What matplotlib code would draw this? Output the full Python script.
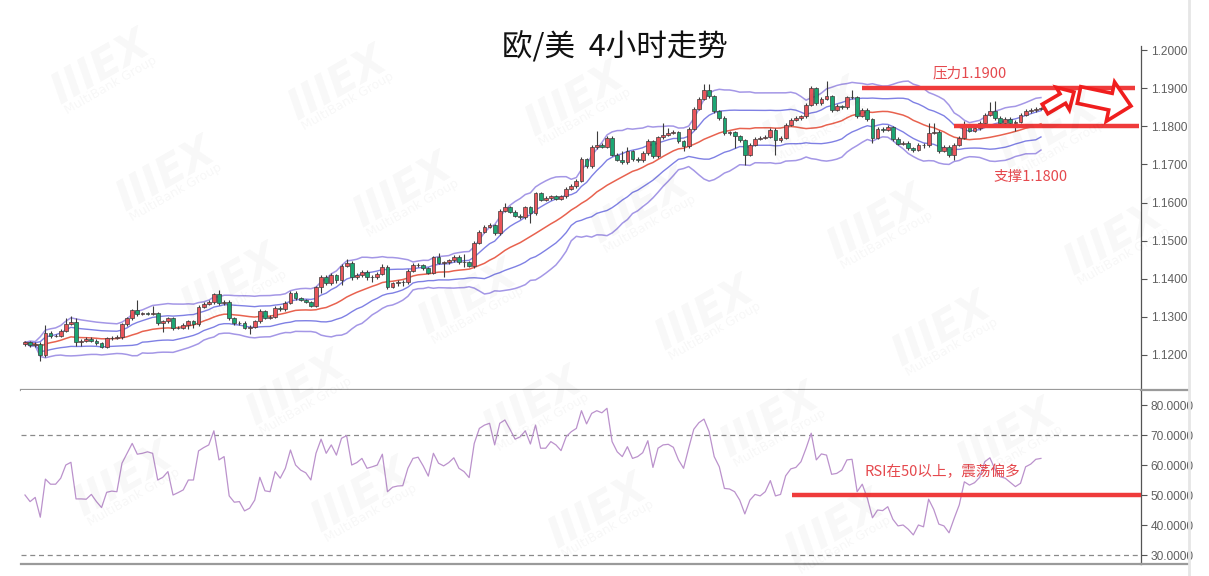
import matplotlib
matplotlib.use("Agg")
import matplotlib.pyplot as plt
import numpy as np
import pandas as pd
from matplotlib.patches import FancyArrow
from matplotlib.lines import Line2D
from matplotlib.transforms import IdentityTransform

plt.rcParams['font.family'] = ['Noto Sans CJK SC', 'DejaVu Sans']

# EUR/USD 4h candles (open of each bar = previous close)
first_open = 1.1228
closes = [
    1.1233, 1.1226, 1.1229, 1.1200, 1.1257, 1.1249, 1.1251, 1.1264, 1.1281, 1.1286,
    1.1235, 1.1237, 1.1242, 1.1237, 1.1231, 1.1222, 1.1244, 1.1245, 1.1246, 1.1281,
    1.1296, 1.1318, 1.1307, 1.1309, 1.1308, 1.1310, 1.1283, 1.1289, 1.1296, 1.1270,
    1.1272, 1.1279, 1.1289, 1.1281, 1.1327, 1.1334, 1.1338, 1.1359, 1.1336, 1.1340,
    1.1296, 1.1283, 1.1285, 1.1272, 1.1274, 1.1288, 1.1316, 1.1298, 1.1301, 1.1324,
    1.1320, 1.1337, 1.1364, 1.1349, 1.1345, 1.1340, 1.1329, 1.1378, 1.1405, 1.1388,
    1.1410, 1.1397, 1.1434, 1.1442, 1.1404, 1.1410, 1.1419, 1.1404, 1.1405, 1.1413,
    1.1432, 1.1379, 1.1388, 1.1392, 1.1391, 1.1421, 1.1436, 1.1437, 1.1428, 1.1416,
    1.1456, 1.1442, 1.1443, 1.1449, 1.1458, 1.1444, 1.1443, 1.1434, 1.1495, 1.1524,
    1.1537, 1.1541, 1.1519, 1.1578, 1.1588, 1.1576, 1.1565, 1.1562, 1.1588, 1.1572,
    1.1624, 1.1607, 1.1612, 1.1616, 1.1610, 1.1617, 1.1636, 1.1643, 1.1657, 1.1714,
    1.1695, 1.1745, 1.1752, 1.1747, 1.1770, 1.1726, 1.1713, 1.1706, 1.1735, 1.1715,
    1.1711, 1.1730, 1.1761, 1.1722, 1.1771, 1.1778, 1.1783, 1.1785, 1.1761, 1.1748,
    1.1794, 1.1846, 1.1873, 1.1895, 1.1879, 1.1840, 1.1822, 1.1783, 1.1784, 1.1774,
    1.1764, 1.1726, 1.1752, 1.1767, 1.1770, 1.1773, 1.1791, 1.1763, 1.1770, 1.1804,
    1.1818, 1.1822, 1.1826, 1.1857, 1.1901, 1.1861, 1.1872, 1.1879, 1.1844, 1.1853,
    1.1850, 1.1876, 1.1877, 1.1828, 1.1844, 1.1819, 1.1770, 1.1794, 1.1791, 1.1798,
    1.1767, 1.1755, 1.1757, 1.1743, 1.1739, 1.1752, 1.1751, 1.1783, 1.1786, 1.1736,
    1.1746, 1.1724, 1.1752, 1.1770, 1.1800, 1.1789, 1.1795, 1.1809, 1.1831, 1.1840,
    1.1822, 1.1809, 1.1820, 1.1809, 1.1812, 1.1831, 1.1840, 1.1842, 1.1846, 1.1848,
]
highs = [
    1.1238, 1.1237, 1.1233, 1.1233, 1.1279, 1.1262, 1.1256, 1.1268, 1.1298, 1.1302,
    1.1296, 1.1241, 1.1246, 1.1247, 1.1241, 1.1235, 1.1248, 1.1249, 1.1252, 1.1285,
    1.1300, 1.1322, 1.1344, 1.1313, 1.1312, 1.1329, 1.1313, 1.1293, 1.1300, 1.1299,
    1.1276, 1.1283, 1.1293, 1.1293, 1.1331, 1.1340, 1.1345, 1.1364, 1.1371, 1.1344,
    1.1344, 1.1299, 1.1289, 1.1288, 1.1278, 1.1292, 1.1320, 1.1319, 1.1305, 1.1328,
    1.1328, 1.1341, 1.1368, 1.1367, 1.1352, 1.1348, 1.1343, 1.1382, 1.1410, 1.1409,
    1.1414, 1.1413, 1.1438, 1.1451, 1.1446, 1.1414, 1.1423, 1.1422, 1.1409, 1.1417,
    1.1439, 1.1436, 1.1392, 1.1396, 1.1396, 1.1425, 1.1441, 1.1442, 1.1440, 1.1431,
    1.1461, 1.1468, 1.1447, 1.1453, 1.1462, 1.1462, 1.1465, 1.1447, 1.1499, 1.1529,
    1.1542, 1.1546, 1.1545, 1.1582, 1.1600, 1.1592, 1.1580, 1.1569, 1.1592, 1.1592,
    1.1629, 1.1628, 1.1616, 1.1620, 1.1620, 1.1621, 1.1640, 1.1648, 1.1662, 1.1719,
    1.1718, 1.1750, 1.1787, 1.1757, 1.1775, 1.1774, 1.1730, 1.1735, 1.1746, 1.1739,
    1.1720, 1.1735, 1.1766, 1.1765, 1.1776, 1.1809, 1.1795, 1.1790, 1.1789, 1.1765,
    1.1799, 1.1851, 1.1878, 1.1911, 1.1911, 1.1883, 1.1844, 1.1826, 1.1789, 1.1788,
    1.1778, 1.1768, 1.1756, 1.1771, 1.1774, 1.1777, 1.1796, 1.1795, 1.1774, 1.1808,
    1.1823, 1.1827, 1.1831, 1.1862, 1.1906, 1.1904, 1.1877, 1.1918, 1.1883, 1.1858,
    1.1857, 1.1881, 1.1896, 1.1881, 1.1849, 1.1848, 1.1823, 1.1798, 1.1798, 1.1803,
    1.1802, 1.1771, 1.1762, 1.1761, 1.1747, 1.1756, 1.1756, 1.1809, 1.1809, 1.1790,
    1.1750, 1.1750, 1.1756, 1.1775, 1.1815, 1.1804, 1.1800, 1.1814, 1.1836, 1.1864,
    1.1866, 1.1826, 1.1824, 1.1824, 1.1816, 1.1835, 1.1845, 1.1847, 1.1851, 1.1852,
]
lows = [
    1.1224, 1.1222, 1.1220, 1.1184, 1.1196, 1.1245, 1.1246, 1.1248, 1.1261, 1.1278,
    1.1224, 1.1223, 1.1233, 1.1233, 1.1227, 1.1218, 1.1219, 1.1240, 1.1241, 1.1243,
    1.1277, 1.1292, 1.1303, 1.1304, 1.1304, 1.1305, 1.1279, 1.1261, 1.1285, 1.1266,
    1.1267, 1.1268, 1.1268, 1.1272, 1.1277, 1.1323, 1.1330, 1.1334, 1.1332, 1.1332,
    1.1292, 1.1279, 1.1280, 1.1268, 1.1254, 1.1270, 1.1284, 1.1294, 1.1294, 1.1297,
    1.1316, 1.1316, 1.1333, 1.1345, 1.1341, 1.1336, 1.1325, 1.1325, 1.1362, 1.1383,
    1.1384, 1.1390, 1.1385, 1.1430, 1.1398, 1.1400, 1.1406, 1.1398, 1.1392, 1.1400,
    1.1409, 1.1373, 1.1375, 1.1381, 1.1381, 1.1387, 1.1417, 1.1432, 1.1424, 1.1412,
    1.1412, 1.1438, 1.1405, 1.1439, 1.1445, 1.1440, 1.1430, 1.1430, 1.1428, 1.1491,
    1.1520, 1.1533, 1.1515, 1.1514, 1.1574, 1.1572, 1.1561, 1.1558, 1.1558, 1.1546,
    1.1568, 1.1603, 1.1603, 1.1608, 1.1606, 1.1606, 1.1613, 1.1632, 1.1639, 1.1653,
    1.1690, 1.1690, 1.1741, 1.1743, 1.1743, 1.1721, 1.1709, 1.1700, 1.1702, 1.1710,
    1.1706, 1.1707, 1.1726, 1.1717, 1.1718, 1.1767, 1.1774, 1.1779, 1.1756, 1.1735,
    1.1744, 1.1790, 1.1842, 1.1869, 1.1874, 1.1835, 1.1818, 1.1778, 1.1778, 1.1743,
    1.1760, 1.1698, 1.1722, 1.1748, 1.1763, 1.1766, 1.1769, 1.1724, 1.1759, 1.1766,
    1.1800, 1.1814, 1.1818, 1.1822, 1.1853, 1.1856, 1.1856, 1.1868, 1.1839, 1.1840,
    1.1846, 1.1846, 1.1871, 1.1823, 1.1824, 1.1814, 1.1756, 1.1766, 1.1786, 1.1787,
    1.1762, 1.1750, 1.1751, 1.1738, 1.1734, 1.1735, 1.1743, 1.1747, 1.1779, 1.1731,
    1.1732, 1.1719, 1.1713, 1.1748, 1.1766, 1.1784, 1.1785, 1.1791, 1.1805, 1.1827,
    1.1818, 1.1805, 1.1805, 1.1805, 1.1787, 1.1808, 1.1827, 1.1836, 1.1838, 1.1842,
]
rsi = [
    50.0, 47.8, 49.2, 42.6, 55.3, 53.6, 53.6, 55.6, 60.0, 60.9,
    48.7, 48.7, 48.6, 50.2, 47.8, 45.8, 50.9, 51.3, 51.1, 60.6,
    63.9, 67.2, 63.6, 63.9, 64.4, 63.9, 55.0, 55.9, 57.8, 50.0,
    50.8, 51.7, 55.0, 55.0, 64.7, 65.8, 66.7, 71.4, 61.7, 62.8,
    49.7, 47.6, 47.8, 44.7, 45.6, 48.3, 55.9, 51.4, 51.1, 57.8,
    55.6, 58.9, 65.0, 60.0, 58.3, 57.4, 55.0, 63.9, 68.6, 63.9,
    66.7, 63.3, 68.9, 69.8, 60.0, 60.8, 62.2, 58.9, 59.4, 60.0,
    63.6, 51.1, 52.6, 53.0, 53.1, 58.9, 62.2, 62.6, 59.7, 56.3,
    63.9, 60.6, 59.7, 60.8, 62.4, 58.9, 57.8, 55.8, 67.2, 72.2,
    73.3, 73.9, 66.7, 73.9, 75.0, 71.9, 68.6, 69.4, 71.4, 67.0,
    73.3, 65.6, 65.6, 67.8, 66.7, 64.8, 69.4, 71.1, 72.2, 78.1,
    73.7, 77.2, 78.1, 77.4, 78.9, 67.8, 64.4, 62.8, 66.1, 62.2,
    62.8, 64.1, 68.1, 59.2, 65.6, 66.7, 66.9, 65.9, 61.7, 58.9,
    65.6, 71.9, 74.1, 75.3, 71.1, 62.8, 59.4, 52.2, 52.0, 51.1,
    48.3, 43.7, 48.3, 50.2, 49.7, 51.1, 54.8, 49.7, 50.2, 56.4,
    58.7, 59.2, 61.1, 65.6, 70.6, 61.7, 63.7, 63.3, 56.9, 57.2,
    58.3, 61.7, 61.9, 51.1, 53.6, 48.9, 42.4, 45.0, 44.8, 46.1,
    41.9, 39.7, 40.0, 38.6, 36.7, 40.0, 39.4, 48.6, 45.2, 40.3,
    39.7, 37.4, 42.2, 46.7, 54.4, 53.3, 54.1, 55.9, 61.1, 62.4,
    58.6, 56.1, 55.6, 54.2, 52.8, 53.9, 59.4, 60.3, 61.9, 62.2,
]

title = "欧/美  4小时走势"
resistance = 1.1900
support = 1.1800
rsi_mark = 50
rsi_levels = [70, 30]
price_ticks = [1.12, 1.13, 1.14, 1.15, 1.16, 1.17, 1.18, 1.19, 1.20]
rsi_ticks = [30, 40, 50, 60, 70, 80]
bb_period = 20

W, H = 1209, 576
fig = plt.figure(figsize=(W / 100, H / 100), dpi=100)
fig.patch.set_facecolor('white')


def fx(px):
    return px / W


def fy(py):
    return 1 - py / H


ax = fig.add_axes([fx(21), fy(390), fx(1141) - fx(21), fy(46) - fy(390)])
ax2 = fig.add_axes([fx(21), fy(563.5), fx(1141) - fx(21), fy(390) - fy(563.5)])

c = np.array(closes)
o = np.r_[first_open, c[:-1]]
h = np.array(highs)
l = np.array(lows)
idx = np.arange(len(c))

# bollinger bands, 1 and 2 sigma
s = pd.Series(c)
mid = s.rolling(bb_period, min_periods=1).mean()
sd = s.rolling(bb_period, min_periods=1).std(ddof=0)
ax.plot(idx, mid + 2 * sd, color='#a497e6', lw=1.1, zorder=1)
ax.plot(idx, mid - 2 * sd, color='#a497e6', lw=1.1, zorder=1)
ax.plot(idx, mid + sd, color='#7f80e4', lw=1.0, zorder=1)
ax.plot(idx, mid - sd, color='#7f80e4', lw=1.0, zorder=1)
ax.plot(idx, mid, color='#e8624f', lw=1.1, zorder=1)

up = c >= o
colors = np.where(up, '#e9555b', '#1ca673')
body_low = np.minimum(o, c)
body_h = np.maximum(np.abs(c - o), 0.00006)
ax.vlines(idx, l, h, color='#3c3c3c', lw=0.8, zorder=2)
ax.bar(idx, body_h, bottom=body_low, width=0.74, color=colors,
       edgecolor='#3c3c3c', linewidth=0.5, zorder=3)

ax.hlines(resistance, 164, 217.5, color='#ef3b3b', lw=3.2, zorder=4)
ax.hlines(support, 182, 218.3, color='#ef3b3b', lw=3.2, zorder=4)

ax.set_xlim(-0.78, 218.6)
ax.set_ylim(1.11081, 1.2011)
ax.set_xticks([])
ax.yaxis.tick_right()
ax.set_yticks(price_ticks, labels=[f"{v:.4f}" for v in price_ticks],
              fontfamily='Liberation Sans', fontsize=8.6, color='#606060')
ax.tick_params(axis='y', direction='out', length=4, width=0.8, color='#555555', pad=3)
for side in ['top', 'left']:
    ax.spines[side].set_visible(False)
ax.spines['right'].set_color('#555555')
ax.spines['right'].set_linewidth(0.9)
ax.spines['bottom'].set_color('#9a9a9a')
ax.spines['bottom'].set_linewidth(1.6)

# RSI panel
ax2.plot(np.arange(len(rsi)), rsi, color='#bb92cc', lw=0.9, zorder=2)
for lv in rsi_levels:
    ax2.axhline(lv, color='#8a8a8a', lw=0.9, dashes=(4, 3), zorder=1)
ax2.hlines(rsi_mark, 150.2, 218.6, color='#ef3b3b', lw=3.2, zorder=3)
ax2.set_xlim(-0.78, 218.6)
ax2.set_ylim(27.17, 85)
ax2.set_xticks([])
ax2.yaxis.tick_right()
ax2.set_yticks(rsi_ticks, labels=[f"{v:.4f}" for v in rsi_ticks],
               fontfamily='Liberation Sans', fontsize=8.6, color='#606060')
ax2.tick_params(axis='y', direction='out', length=4, width=0.8, color='#555555', pad=3)
for side in ['top', 'left']:
    ax2.spines[side].set_visible(False)
ax2.spines['right'].set_color('#555555')
ax2.spines['right'].set_linewidth(0.9)
ax2.spines['bottom'].set_color('#9a9a9a')
ax2.spines['bottom'].set_linewidth(1.6)

# separators reaching into the label column, and the faint right border
for py in [390, 563.5]:
    fig.add_artist(Line2D([fx(1141), fx(1188)], [fy(py), fy(py)], color='#9a9a9a', lw=1.6))
fig.add_artist(Line2D([fx(1189), fx(1189)], [0, 1], color='#e6e6e6', lw=2.0))

# texts
fig.text(fx(615), fy(48), title, ha='center', va='center', fontsize=22, color='#111111')
fig.text(fx(970), fy(73), f"压力{resistance:.4f}", ha='center', va='center',
         fontsize=10.5, color='#e5484d')
fig.text(fx(1031), fy(177), f"支撑{support:.4f}", ha='center', va='center',
         fontsize=10.5, color='#e5484d')
fig.text(fx(942), fy(472), f"RSI在{rsi_mark}以上，震荡偏多", ha='center', va='center',
         fontsize=10.5, color='#e5484d')

# hollow arrows (pixel coords, origin bottom-left)
for (x0, y0, x1, y1, w, hw, hl) in [(1045, 109, 1074, 92, 11, 26, 13),
                                    (1079, 95, 1131, 106, 17, 40, 21)]:
    arr = FancyArrow(x0, H - y0, x1 - x0, -(y1 - y0), width=w, head_width=hw,
                     head_length=hl, length_includes_head=True,
                     facecolor='white', edgecolor='#f01e1e', lw=2.6)
    arr.set_transform(IdentityTransform())
    fig.add_artist(arr)

# faint watermark grid (only the ones that sit fully inside)
for m in range(-1, 6):
    for n in range(-1, 6):
        cx = 100 + 237 * m + 65 * n
        cy = 68 + 16 * m + 107 * n
        if 60 < cx < W - 90 and 40 < cy < H - 45:
            fig.text(fx(cx), fy(cy), "IIIEX", rotation=30, ha='center', va='center',
                     fontsize=30, fontweight='bold', fontstyle='italic',
                     family='DejaVu Sans', color='black', alpha=0.032)
            fig.text(fx(cx + 11), fy(cy + 17), "MultiBank Group", rotation=30,
                     ha='center', va='center', fontsize=9, family='DejaVu Sans',
                     color='black', alpha=0.035)

fig.savefig('out.png', dpi=100)
